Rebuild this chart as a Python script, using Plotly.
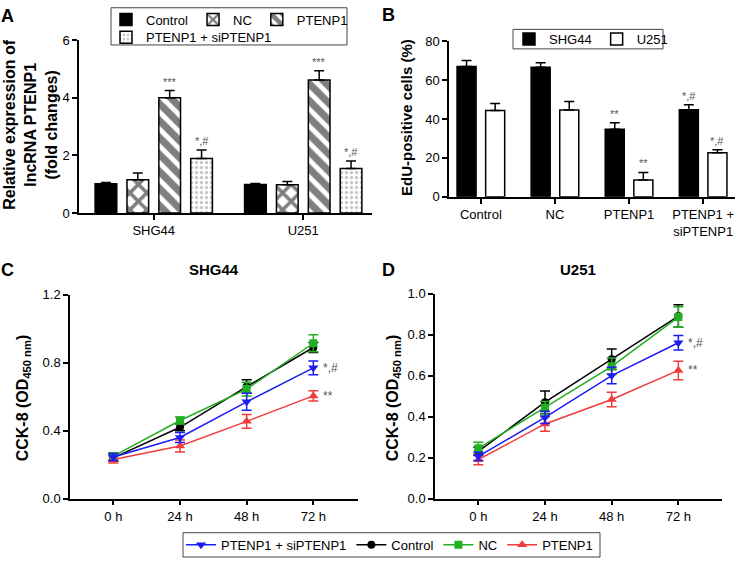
import plotly.graph_objects as go

W, H = 737, 566
FONT = "Arial, Liberation Sans, sans-serif"

# ---------------- Data ----------------
# Panel A
a_cells = ["SHG44", "U251"]
a_groups = ["Control", "NC", "PTENP1", "PTENP1 + siPTENP1"]
a_values = {
    "Control": [1.02, 0.99],
    "NC": [1.16, 0.98],
    "PTENP1": [4.0, 4.62],
    "PTENP1 + siPTENP1": [1.89, 1.55],
}
a_errors = {
    "Control": [0.04, 0.04],
    "NC": [0.23, 0.12],
    "PTENP1": [0.25, 0.32],
    "PTENP1 + siPTENP1": [0.3, 0.26],
}
a_sig = {"PTENP1": ["***", "***"], "PTENP1 + siPTENP1": ["*,#", "*,#"]}

# Panel B
b_groups = ["Control", "NC", "PTENP1", "PTENP1 +<br>siPTENP1"]
b_shg44 = [67.0, 66.5, 34.7, 44.7]
b_shg44_err = [3.0, 2.4, 3.4, 2.6]
b_u251 = [44.3, 44.6, 8.7, 22.6]
b_u251_err = [3.6, 4.3, 3.8, 1.6]
b_shg44_sig = ["", "", "**", "*,#"]
b_u251_sig = ["", "", "**", "*,#"]

# Panels C and D
times = ["0 h", "24 h", "48 h", "72 h"]
c_series = {
    "Control": [0.24, 0.42, 0.66, 0.89],
    "NC": [0.25, 0.46, 0.645, 0.915],
    "PTENP1": [0.23, 0.31, 0.455, 0.605],
    "PTENP1 + siPTENP1": [0.245, 0.36, 0.57, 0.77],
}
c_err = {
    "Control": [0.02, 0.02, 0.04, 0.03],
    "NC": [0.02, 0.02, 0.04, 0.05],
    "PTENP1": [0.02, 0.035, 0.04, 0.03],
    "PTENP1 + siPTENP1": [0.02, 0.03, 0.05, 0.04],
}
d_series = {
    "Control": [0.23, 0.47, 0.68, 0.89],
    "NC": [0.245, 0.443, 0.645, 0.885],
    "PTENP1": [0.19, 0.364, 0.483, 0.625],
    "PTENP1 + siPTENP1": [0.206, 0.396, 0.60, 0.76],
}
d_err = {
    "Control": [0.02, 0.055, 0.05, 0.055],
    "NC": [0.03, 0.03, 0.04, 0.05],
    "PTENP1": [0.025, 0.035, 0.035, 0.045],
    "PTENP1 + siPTENP1": [0.02, 0.03, 0.04, 0.035],
}
line_sig = {"PTENP1 + siPTENP1": "*,#", "PTENP1": "**"}

# ---------------- Styles ----------------
patterns = {
    "Control": dict(color="black", pattern=None),
    "NC": dict(color="white", pattern=dict(shape="x", fgcolor="black", bgcolor="white", size=12, solidity=0.5)),
    "PTENP1": dict(color="white", pattern=dict(shape="\\", fgcolor="black", bgcolor="white", size=12, solidity=0.6)),
    "PTENP1 + siPTENP1": dict(color="white", pattern=dict(shape=".", fgcolor="#909090", bgcolor="white", size=5, solidity=0.35)),
}
line_styles = {
    "Control": dict(color="black", symbol="circle", size=8),
    "NC": dict(color="#22b022", symbol="square", size=8),
    "PTENP1": dict(color="#f03c3c", symbol="triangle-up", size=9),
    "PTENP1 + siPTENP1": dict(color="#1c1cf5", symbol="triangle-down", size=9),
}
legend_rank = {"PTENP1 + siPTENP1": 1, "Control": 2, "NC": 3, "PTENP1": 4}

def px_x(x0, x1):
    return [x0 / W, x1 / W]

def px_y(top, bottom):
    return [1 - bottom / H, 1 - top / H]

fig = go.Figure()

# ---------------- Panel A ----------------
A_BARGAP = 0.147
for g in a_groups:
    st = patterns[g]
    marker = dict(color=st["color"], line=dict(color="black", width=1.5))
    if st["pattern"]:
        marker["pattern"] = st["pattern"]
    fig.add_trace(go.Bar(
        x=a_cells, y=a_values[g], name=g, marker=marker,
        error_y=dict(type="data", array=a_errors[g], arrayminus=[0] * len(a_cells),
                     symmetric=False, color="black", thickness=1.5, width=5),
        xaxis="x", yaxis="y",
        legend="legend" if g != "PTENP1 + siPTENP1" else "legend2",
    ))

# ---------------- Panel B ----------------
B_SLOT = 0.386   # distance between the two bar centres of a group (category units)
B_WIDTH = 0.257  # bar width (category units)
for k, (name, vals, errs, col) in enumerate([("SHG44", b_shg44, b_shg44_err, "black"),
                                             ("U251", b_u251, b_u251_err, "white")]):
    centre = (k - 0.5) * B_SLOT
    fig.add_trace(go.Bar(
        x=b_groups, y=vals, name=name, width=B_WIDTH, offset=centre - B_WIDTH / 2,
        marker=dict(color=col, line=dict(color="black", width=1.5)),
        error_y=dict(type="data", array=errs, arrayminus=[0] * len(errs), symmetric=False,
                     color="black", thickness=1.5, width=5),
        xaxis="x2", yaxis="y2", legend="legend4",
    ))

# ---------------- Panels C, D ----------------
order = ["Control", "NC", "PTENP1", "PTENP1 + siPTENP1"]
for data, errs, xa, ya, show in [(c_series, c_err, "x3", "y3", True), (d_series, d_err, "x4", "y4", False)]:
    for g in order:
        s = line_styles[g]
        fig.add_trace(go.Scatter(
            x=times, y=data[g], name=g, mode="lines+markers",
            line=dict(color=s["color"], width=1.5),
            marker=dict(color=s["color"], symbol=s["symbol"], size=s["size"]),
            error_y=dict(type="data", array=errs[g], color=s["color"], thickness=1.5, width=5),
            xaxis=xa, yaxis=ya, showlegend=show, legend="legend3", legendrank=legend_rank[g],
        ))

# ---------------- Axes ----------------
axis_common = dict(showline=True, linecolor="black", linewidth=1.5, ticks="outside",
                   ticklen=5, tickwidth=1.5, tickcolor="black", showgrid=False, zeroline=False,
                   tickfont=dict(family=FONT, size=13, color="black"), fixedrange=True)

fig.update_layout(
    xaxis=dict(domain=px_x(79, 372), anchor="y", type="category", range=[-0.5, 1.46], **axis_common),
    yaxis=dict(domain=px_y(34, 211.7), anchor="x", range=[0, 6], tickvals=[0, 2, 4, 6], **axis_common),
    xaxis2=dict(domain=px_x(449, 735), anchor="y2", type="category", range=[-0.43, 3.43], **axis_common),
    yaxis2=dict(domain=px_y(35, 195), anchor="x2", range=[0, 80], tickvals=[0, 20, 40, 60, 80], **axis_common),
    xaxis3=dict(domain=px_x(70, 358), anchor="y3", type="category", range=[-0.65, 3.67], **axis_common),
    yaxis3=dict(domain=px_y(295.7, 505), anchor="x3", range=[0, 1.2], tickvals=[0, 0.4, 0.8, 1.2],
                tickformat=".1f", **axis_common),
    xaxis4=dict(domain=px_x(435, 721.7), anchor="y4", type="category", range=[-0.65, 3.65], **axis_common),
    yaxis4=dict(domain=px_y(294.3, 505), anchor="x4", range=[0, 1.0], tickvals=[0, 0.2, 0.4, 0.6, 0.8, 1.0],
                tickformat=".1f", **axis_common),
)

# ---------------- Annotations ----------------
ann = []
def txt(x, y, text, size=13, bold=False, angle=0, xanchor="center", yanchor="middle", color="black"):
    t = f"<b>{text}</b>" if bold else text
    ann.append(dict(x=x / W, y=1 - y / H, xref="paper", yref="paper", text=t, showarrow=False,
                    textangle=angle, xanchor=xanchor, yanchor=yanchor,
                    font=dict(family=FONT, size=size, color=color)))

txt(-1, 9, "A", size=18, bold=True, xanchor="left")
txt(380, 8, "B", size=18, bold=True, xanchor="left")
txt(-1, 270, "C", size=18, bold=True, xanchor="left")
txt(380, 270, "D", size=18, bold=True, xanchor="left")
txt(214, 270, "SHG44", size=15, bold=True)
txt(578, 270, "U251", size=15, bold=True)
txt(31, 121, "Relative expression of<br>lncRNA PTENP1<br>(fold changes)", size=16, bold=True, angle=-90)
txt(407, 114, "EdU-positive cells (%)", size=15, bold=True, angle=-90)
txt(23, 402, "CCK-8 (OD<sub>450 nm</sub>)", size=16, bold=True, angle=-90)
txt(393, 402, "CCK-8 (OD<sub>450 nm</sub>)", size=16, bold=True, angle=-90)

sig_font = dict(family=FONT, size=11, color="#555555")
# A significance marks
slot_a = (1 - A_BARGAP) / len(a_groups)
for gi, g in enumerate(a_groups):
    if g not in a_sig:
        continue
    off = (gi - (len(a_groups) - 1) / 2) * slot_a
    for ci in range(len(a_cells)):
        ann.append(dict(x=ci + off, y=a_values[g][ci] + a_errors[g][ci], xref="x", yref="y",
                        text=a_sig[g][ci], showarrow=False, yanchor="bottom", yshift=1, font=sig_font))
# B significance marks
for vals, errs, sig, k in [(b_shg44, b_shg44_err, b_shg44_sig, 0), (b_u251, b_u251_err, b_u251_sig, 1)]:
    off = (k - 0.5) * B_SLOT
    for ci, s in enumerate(sig):
        if s:
            ann.append(dict(x=ci + off, y=vals[ci] + errs[ci], xref="x2", yref="y2", text=s,
                            showarrow=False, yanchor="bottom", yshift=1, font=sig_font))
# C, D significance marks
for data, xr, yr in [(c_series, "x3", "y3"), (d_series, "x4", "y4")]:
    for g, s in line_sig.items():
        ann.append(dict(x=3, y=data[g][3], xref=xr, yref=yr, text=s, showarrow=False,
                        xanchor="left", xshift=8, font=dict(family=FONT, size=12, color="#555555")))

# ---------------- Legend frames ----------------
def frame(x0, y0, x1, y1):
    return dict(type="rect", xref="paper", yref="paper", x0=x0 / W, x1=x1 / W,
                y0=1 - y1 / H, y1=1 - y0 / H, line=dict(color="#444444", width=1),
                fillcolor="rgba(0,0,0,0)", layer="above")

shapes = [frame(111, 0.8, 347, 39), frame(513, 23, 663, 43), frame(183, 540, 600, 565)]

leg_font = dict(family=FONT, size=13, color="black")
leg_common = dict(orientation="h", xanchor="left", yanchor="middle", bgcolor="rgba(0,0,0,0)",
                  borderwidth=0, font=leg_font, itemwidth=30)
fig.update_layout(
    width=W, height=H, margin=dict(l=0, r=0, t=0, b=0),
    paper_bgcolor="white", plot_bgcolor="white",
    barmode="group", bargap=A_BARGAP, bargroupgap=0.32,
    annotations=ann, shapes=shapes,
    legend=dict(x=106 / W, y=1 - 13 / H, **leg_common),
    legend2=dict(x=106 / W, y=1 - 31 / H, **leg_common),
    legend4=dict(x=509 / W, y=1 - 33 / H, **leg_common),
    legend3=dict(x=181 / W, y=1 - 552.5 / H, traceorder="normal", **leg_common),
    font=dict(family=FONT, size=13, color="black"),
)

fig.write_html("out.html", config={"displayModeBar": False},
               post_script="document.body.style.margin='0';document.body.style.padding='0';")
